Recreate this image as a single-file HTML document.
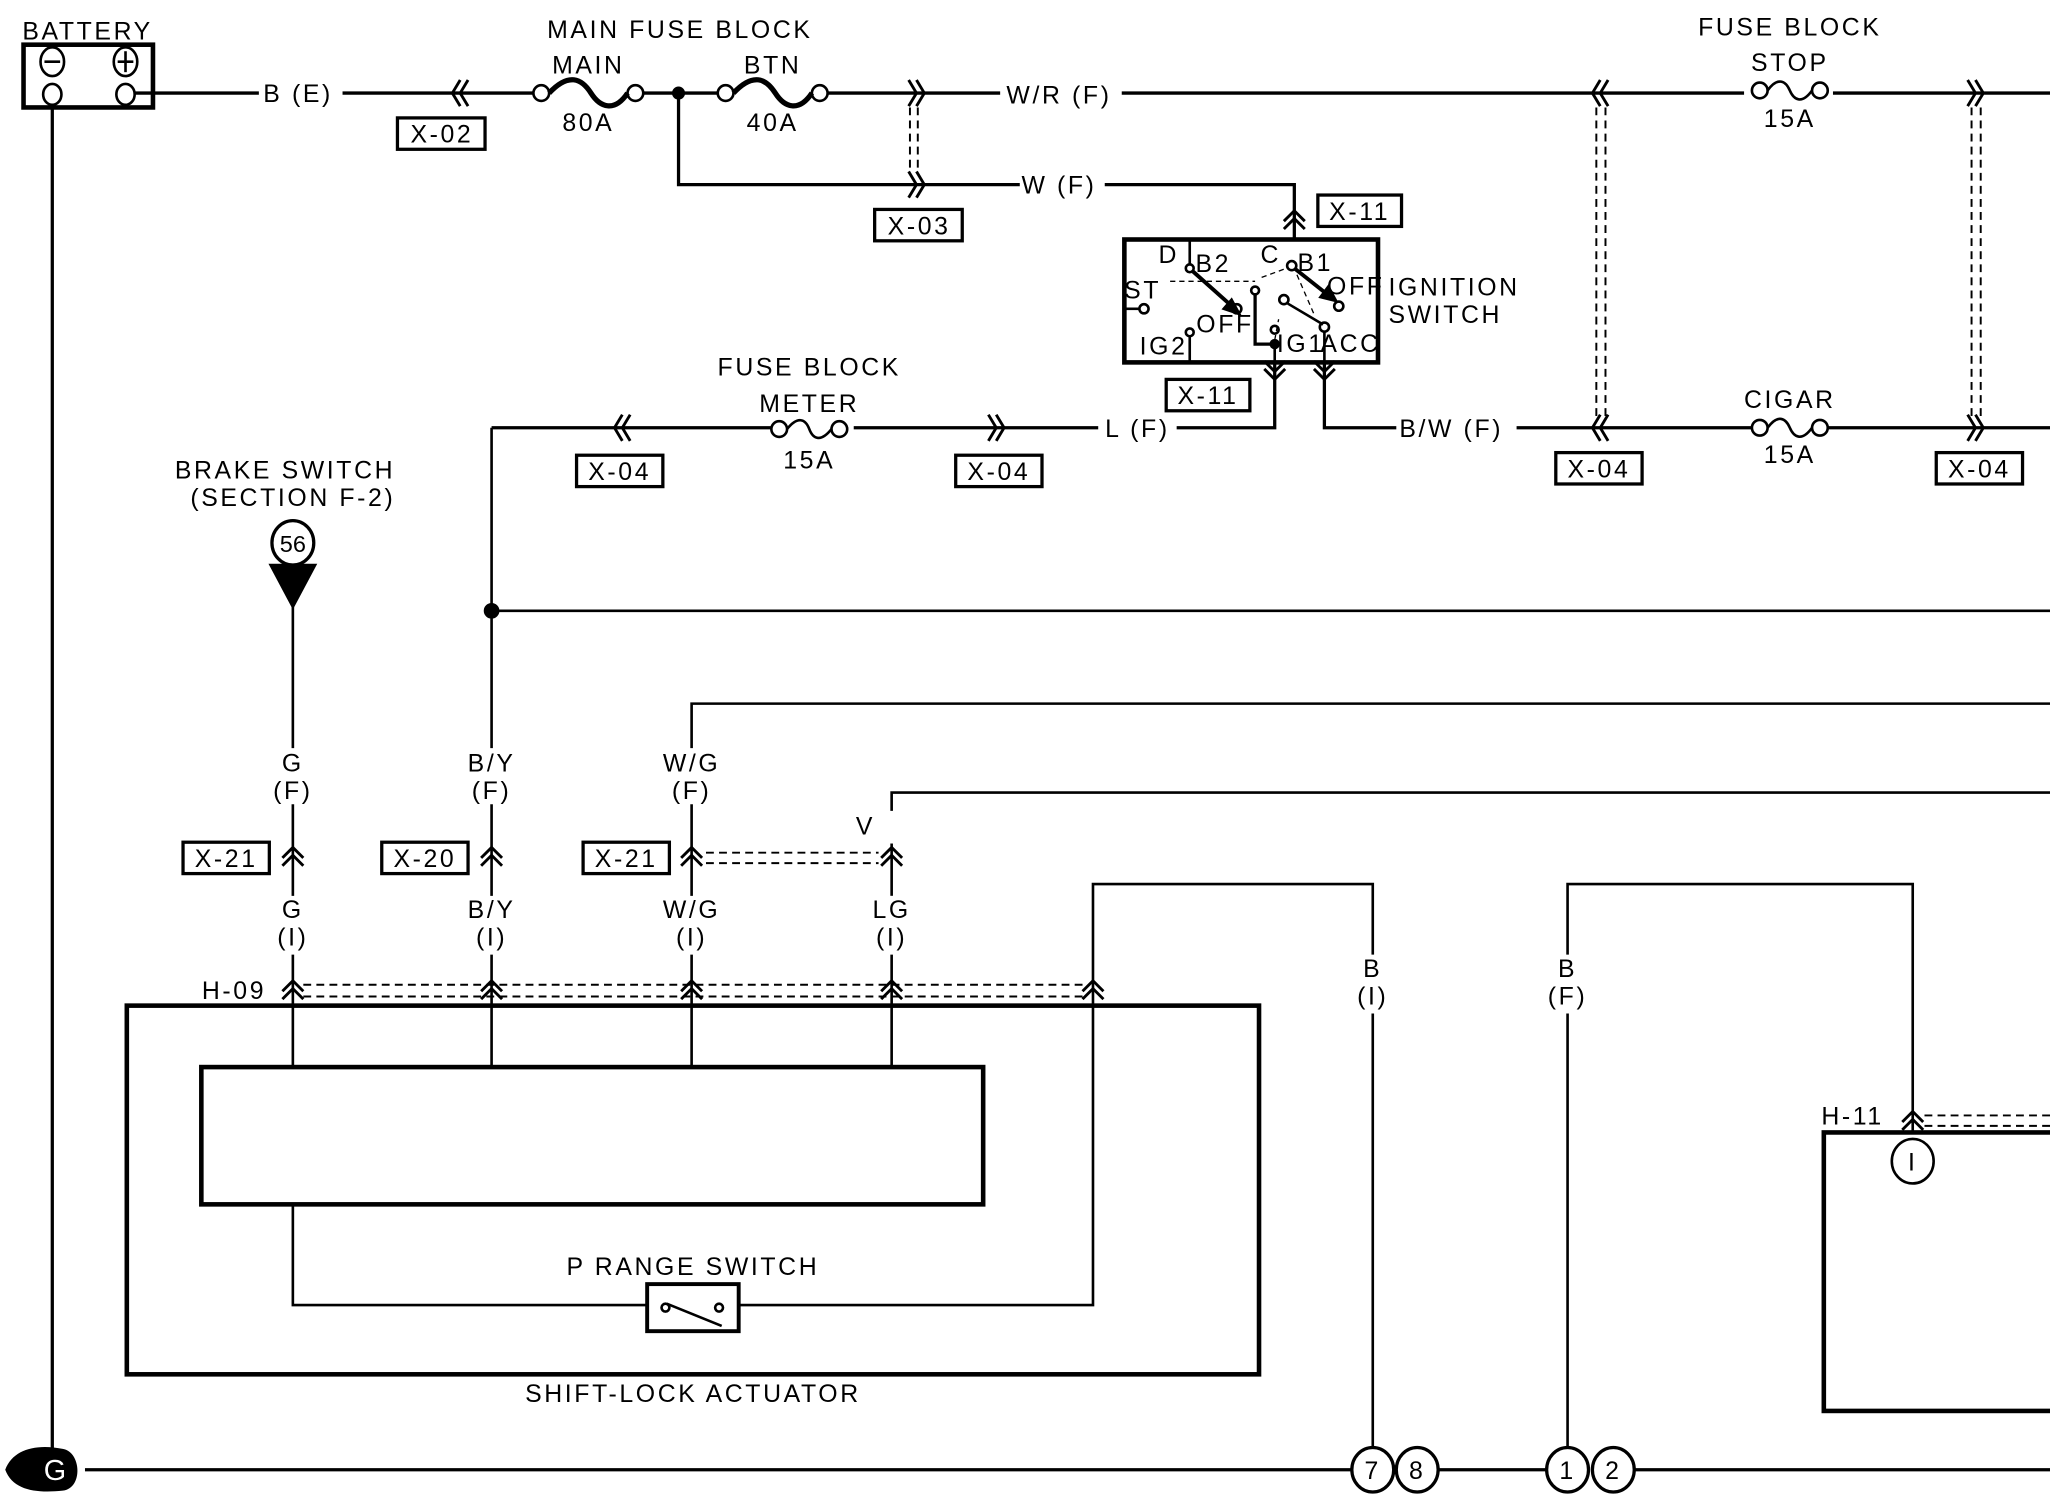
<!DOCTYPE html>
<html><head><meta charset="utf-8"><style>
html,body{margin:0;padding:0;background:#fff;}
svg{display:block;}
text{font-family:"Liberation Sans",sans-serif;font-size:19px;fill:#000;text-anchor:middle;letter-spacing:2px;}
.l{text-anchor:start}
</style></head><body>
<svg width="2050" height="1504" viewBox="0 0 1568 1150" xmlns="http://www.w3.org/2000/svg">
<defs>
<g id="cu"><path d="M-8,6 L0,-2 L8,6 M-8,12 L0,4 L8,12" fill="none" stroke="#000" stroke-width="2.2"/></g>
<g id="cl"><path d="M4,-10 L-2,0 L4,10 M10,-10 L4,0 L10,10" fill="none" stroke="#000" stroke-width="2.2"/></g>
<g id="cr"><path d="M-10,-10 L-4,0 L-10,10 M-4,-10 L2,0 L-4,10" fill="none" stroke="#000" stroke-width="2.2"/></g>
</defs>
<g fill="none" stroke="#000" stroke-width="2">
<!-- battery -->
<rect x="18" y="34" width="99" height="48" stroke-width="3.5"/>
<ellipse cx="40" cy="47" rx="9" ry="11"/><line x1="34" y1="47" x2="46" y2="47"/>
<ellipse cx="96" cy="47" rx="9" ry="11"/><line x1="90" y1="47" x2="102" y2="47"/><line x1="96" y1="39" x2="96" y2="55"/>
<ellipse cx="40" cy="72" rx="7" ry="8"/><ellipse cx="96" cy="72" rx="7" ry="8"/>
<line x1="40" y1="82" x2="40" y2="1112" stroke-width="2.5"/>
<line x1="103" y1="71" x2="198" y2="71" stroke-width="2.5"/>
<line x1="262" y1="71" x2="408" y2="71" stroke-width="2.5"/>
<!-- main fuses -->
<circle cx="414" cy="71" r="6"/><circle cx="486" cy="71" r="6"/>
<path d="M420,71 C435,55 445,60 452,71 S470,86 480,71" stroke-width="4"/>
<line x1="492" y1="71" x2="549" y2="71" stroke-width="2.5"/>
<circle cx="519" cy="71" r="4" fill="#000"/>
<circle cx="555" cy="71" r="6"/><circle cx="627" cy="71" r="6"/>
<path d="M561,71 C576,55 586,60 593,71 S611,86 621,71" stroke-width="4"/>
<line x1="633" y1="71" x2="765" y2="71" stroke-width="2.5"/>
<line x1="858" y1="71" x2="1334" y2="71" stroke-width="2.5"/>
<line x1="1402" y1="71" x2="1568" y2="71" stroke-width="2.5"/>
<!-- stop fuse -->
<circle cx="1346" cy="69" r="6"/><circle cx="1392" cy="69" r="6"/>
<path d="M1352,69 C1360,58 1366,62 1369,69 S1378,80 1386,69"/>
<!-- W branch -->
<path d="M519,71 V141 H780" stroke-width="2.5"/>
<path d="M845,141 H990 V183" stroke-width="2.5"/>
<!-- dashed -->
<g stroke-width="1.5" stroke-dasharray="6,4">
<line x1="696" y1="82" x2="696" y2="132"/><line x1="702" y1="82" x2="702" y2="132"/>
<line x1="1221" y1="82" x2="1221" y2="318"/><line x1="1228" y1="82" x2="1228" y2="318"/>
<line x1="1508" y1="82" x2="1508" y2="318"/><line x1="1515" y1="82" x2="1515" y2="318"/>
</g>
<!-- ignition switch -->
<rect x="860" y="183" width="194" height="94" stroke-width="3.5"/>
<line x1="910" y1="183" x2="910" y2="203"/>
<circle cx="910" cy="205" r="3"/><line x1="912" y1="207" x2="940" y2="232" stroke-width="3"/>
<polygon points="948,240 936,236 942,229" fill="#000"/>
<circle cx="946" cy="236" r="3.5"/>
<line x1="860" y1="236" x2="871" y2="236"/><circle cx="875" cy="236" r="3.5"/>
<circle cx="910" cy="254" r="3"/><line x1="910" y1="257" x2="910" y2="277"/>
<circle cx="988" cy="203" r="3.5"/>
<line x1="990" y1="205" x2="1014" y2="224" stroke-width="3"/>
<polygon points="1022,230 1010,227 1016,219" fill="#000"/>
<circle cx="1024" cy="234" r="3.5"/>
<path d="M960,224 V263 H973" stroke-width="2.5"/><circle cx="960" cy="222" r="3"/>
<circle cx="982" cy="229" r="3.5"/><line x1="985" y1="232" x2="1012" y2="248"/>
<circle cx="1013" cy="250" r="3.5"/><line x1="1013" y1="254" x2="1013" y2="277"/>
<circle cx="975" cy="252" r="3"/><circle cx="975" cy="263" r="3" fill="#000"/><line x1="975" y1="263" x2="975" y2="277"/>
<path d="M895,215 L960,215 M965,212 L984,205 M975,260 L978,244 M992,210 L1005,240" stroke-width="1" stroke-dasharray="4,3"/>
<!-- outputs -->
<path d="M975,277 V327 H900" stroke-width="2.5"/>
<path d="M1013,277 V327 H1068" stroke-width="2.5"/>
<line x1="376" y1="327" x2="840" y2="327" stroke-width="2.5"/>
<line x1="1160" y1="327" x2="1568" y2="327" stroke-width="2.5"/>
<!-- meter fuse -->
<line x1="590" y1="327" x2="653" y2="327" stroke="#fff" stroke-width="4"/>
<circle cx="596" cy="328" r="6"/><circle cx="642" cy="328" r="6"/>
<path d="M602,328 C610,318 616,320 619,328 S628,338 636,328"/>
<line x1="1340" y1="327" x2="1398" y2="327" stroke="#fff" stroke-width="4"/>
<circle cx="1346" cy="327" r="6"/><circle cx="1392" cy="327" r="6"/>
<path d="M1352,327 C1360,316 1366,320 1369,327 S1378,338 1386,327"/>
<!-- verticals -->
<line x1="376" y1="327" x2="376" y2="572"/>
<circle cx="376" cy="467" r="5" fill="#000"/>
<line x1="376" y1="467" x2="1568" y2="467"/>
<path d="M529,572 V538 H1568"/>
<path d="M682,620 V606 H1568"/>
<!-- brake -->
<ellipse cx="224" cy="415" rx="16" ry="17" stroke-width="2.5"/>
<polygon points="207,432 241,432 224,464" fill="#000"/>
<line x1="224" y1="464" x2="224" y2="572"/>
<g>
<line x1="224" y1="615" x2="224" y2="685"/><line x1="376" y1="615" x2="376" y2="685"/>
<line x1="529" y1="615" x2="529" y2="685"/><line x1="682" y1="645" x2="682" y2="685"/>
<line x1="224" y1="730" x2="224" y2="816"/><line x1="376" y1="730" x2="376" y2="816"/>
<line x1="529" y1="730" x2="529" y2="816"/><line x1="682" y1="730" x2="682" y2="816"/>
</g>
<g stroke-width="1.5" stroke-dasharray="6,4">
<line x1="540" y1="652" x2="672" y2="652"/><line x1="540" y1="660" x2="672" y2="660"/>
<line x1="232" y1="753" x2="828" y2="753"/><line x1="232" y1="762" x2="828" y2="762"/>
<line x1="1472" y1="853" x2="1568" y2="853"/><line x1="1472" y1="861" x2="1568" y2="861"/>
</g>
<!-- actuator -->
<rect x="97" y="769" width="866" height="282" stroke-width="3.5"/>
<rect x="154" y="816" width="598" height="105" stroke-width="3.5"/>
<path d="M224,921 V998 H495"/>
<rect x="495" y="982" width="70" height="36" stroke-width="3"/>
<circle cx="509" cy="1000" r="3"/><circle cx="550" cy="1000" r="3"/><line x1="510" y1="997" x2="552" y2="1014"/>
<path d="M565,998 H836 V676 H1050 V730"/>
<line x1="1050" y1="775" x2="1050" y2="1108"/>
<path d="M1199,1108 V775 M1199,730 V676 H1463 V866"/>
<rect x="1395" y="866" width="190" height="213" stroke-width="3.5"/>
<ellipse cx="1463" cy="888" rx="16" ry="17"/>
<!-- ground -->
<line x1="65" y1="1124" x2="1034" y2="1124" stroke-width="2.5"/>
<line x1="1100" y1="1124" x2="1183" y2="1124" stroke-width="2.5"/>
<line x1="1250" y1="1124" x2="1568" y2="1124" stroke-width="2.5"/>
<g stroke-width="2.5">
<ellipse cx="1050" cy="1124" rx="16" ry="17"/><ellipse cx="1084" cy="1124" rx="16" ry="17"/>
<ellipse cx="1199" cy="1124" rx="16" ry="17"/><ellipse cx="1234" cy="1124" rx="16" ry="17"/>
</g>
<!-- label boxes -->
<g stroke-width="2.5">
<rect x="304" y="90" width="67" height="24"/><rect x="669" y="160" width="67" height="24"/>
<rect x="1008" y="149" width="64" height="24"/><rect x="892" y="290" width="64" height="24"/>
<rect x="441" y="348" width="66" height="24"/><rect x="731" y="348" width="66" height="24"/>
<rect x="1190" y="346" width="66" height="24"/><rect x="1481" y="346" width="66" height="24"/>
<rect x="140" y="644" width="66" height="24"/><rect x="292" y="644" width="66" height="24"/><rect x="446" y="644" width="66" height="24"/>
</g>
</g>
<path d="M4,1124 C10,1108 28,1104 48,1108 C62,1110 64,1138 48,1140 C28,1142 10,1140 4,1124Z" fill="#000"/>
<text x="43" y="1132" style="fill:#fff;font-size:22px">G</text>
<!-- connectors -->
<use href="#cl" x="348" y="71"/><use href="#cr" x="705" y="71"/><use href="#cr" x="705" y="141"/>
<use href="#cl" x="1220" y="71"/><use href="#cr" x="1515" y="71"/>
<use href="#cl" x="1220" y="327"/><use href="#cr" x="1515" y="327"/>
<use href="#cl" x="472" y="327"/><use href="#cr" x="766" y="327"/>
<use href="#cu" x="990" y="163"/>
<g transform="translate(975,288) scale(1,-1)"><use href="#cu"/></g>
<g transform="translate(1013,288) scale(1,-1)"><use href="#cu"/></g>
<use href="#cu" x="224" y="650"/><use href="#cu" x="376" y="650"/><use href="#cu" x="529" y="650"/><use href="#cu" x="682" y="650"/>
<use href="#cu" x="224" y="752"/><use href="#cu" x="376" y="752"/><use href="#cu" x="529" y="752"/><use href="#cu" x="682" y="752"/><use href="#cu" x="836" y="752"/>
<use href="#cu" x="1463" y="852"/>
<!-- texts -->
<text x="67" y="30">BATTERY</text>
<text x="228" y="78">B (E)</text>
<text x="338" y="109">X-02</text>
<text x="520" y="29">MAIN FUSE BLOCK</text>
<text x="450" y="56">MAIN</text><text x="450" y="100">80A</text>
<text x="591" y="56">BTN</text><text x="591" y="100">40A</text>
<text x="810" y="79">W/R (F)</text>
<text x="810" y="148">W (F)</text>
<text x="703" y="179">X-03</text>
<text x="1040" y="168">X-11</text>
<text x="924" y="309">X-11</text>
<text x="1369" y="27">FUSE BLOCK</text><text x="1369" y="54">STOP</text><text x="1369" y="97">15A</text>
<text x="1369" y="312">CIGAR</text><text x="1369" y="354">15A</text>
<text x="1062" y="226" class="l">IGNITION</text><text x="1062" y="247" class="l">SWITCH</text>
<g style="font-size:12px;letter-spacing:0">
<text x="894" y="201">D</text><text x="928" y="208">B2</text><text x="972" y="201">C</text><text x="1006" y="207">B1</text>
<text x="874" y="228">ST</text><text x="937" y="254">OFF</text><text x="1037" y="225">OFF</text>
<text x="890" y="271">IG2</text><text x="995" y="269">IG1</text><text x="1033" y="269">ACC</text>
</g>
<text x="619" y="287">FUSE BLOCK</text><text x="619" y="315">METER</text><text x="619" y="358">15A</text>
<text x="870" y="334">L (F)</text><text x="1110" y="334">B/W (F)</text>
<text x="474" y="367">X-04</text><text x="764" y="367">X-04</text><text x="1223" y="365">X-04</text><text x="1514" y="365">X-04</text>
<text x="218" y="366">BRAKE SWITCH</text><text x="224" y="387">(SECTION F-2)</text>
<text x="224" y="422" style="font-size:18px;letter-spacing:0">56</text>
<text x="224" y="590">G</text><text x="224" y="611">(F)</text>
<text x="376" y="590">B/Y</text><text x="376" y="611">(F)</text>
<text x="529" y="590">W/G</text><text x="529" y="611">(F)</text>
<text x="662" y="638">V</text>
<text x="173" y="663">X-21</text><text x="325" y="663">X-20</text><text x="479" y="663">X-21</text>
<text x="224" y="702">G</text><text x="224" y="723">(I)</text>
<text x="376" y="702">B/Y</text><text x="376" y="723">(I)</text>
<text x="529" y="702">W/G</text><text x="529" y="723">(I)</text>
<text x="682" y="702">LG</text><text x="682" y="723">(I)</text>
<text x="179" y="764">H-09</text>
<text x="1050" y="747">B</text><text x="1050" y="768">(I)</text>
<text x="1199" y="747">B</text><text x="1199" y="768">(F)</text>
<text x="1417" y="860">H-11</text>
<text x="1463" y="895">I</text>
<text x="530" y="975">P RANGE SWITCH</text>
<text x="530" y="1072">SHIFT-LOCK ACTUATOR</text>
<g style="letter-spacing:0;font-size:20px">
<text x="1050" y="1131">7</text><text x="1084" y="1131">8</text><text x="1199" y="1131">1</text><text x="1234" y="1131">2</text>
</g>
</svg>
</body></html>
